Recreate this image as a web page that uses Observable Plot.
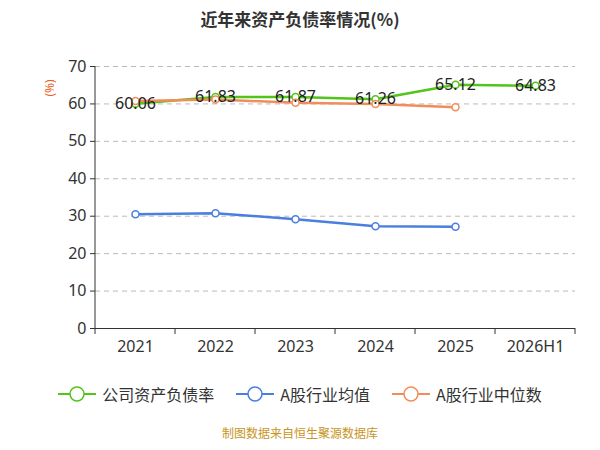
<!DOCTYPE html>
<html><head><meta charset="utf-8">
<script src="https://cdn.jsdelivr.net/npm/d3@7"></script>
<script src="https://cdn.jsdelivr.net/npm/@observablehq/plot@0.6"></script>
<style>
body{margin:0;width:600px;height:450px;background:#fff;font-family:"Noto Sans CJK SC","Noto Sans",sans-serif;}
#title{height:40px;line-height:38px;text-align:center;font-size:17px;font-weight:bold;color:#333;}
#legend{display:flex;justify-content:center;gap:22px;font-size:16px;color:#333;margin-top:22px;}
#legend span{display:flex;align-items:center;gap:6px}
#cap{text-align:center;font-size:12px;color:#c8941e;margin-top:18px}
</style></head><body>
<div id="title">近年来资产负债率情况(%)</div>
<div id="chart"></div>
<div id="legend"></div>
<div id="cap">制图数据来自恒生聚源数据库</div>
<script>
const years=["2021","2022","2023","2024","2025","2026H1"];
const company=[60.06,61.83,61.87,61.26,65.12,64.83];
const aAvg=[30.5,30.8,29.2,27.3,27.2];
const aMed=[60.8,61.2,60.3,60.0,59.1];
const names=["公司资产负债率","A股行业均值","A股行业中位数"];
const colors=["#52c41a","#4a7fe0","#f28c5b"];
const rows=(vals,s)=>vals.map((v,i)=>({x:years[i],y:v,s}));
const all=[...rows(company,names[0]),...rows(aAvg,names[1]),...rows(aMed,names[2])];
const comp=rows(company,names[0]);
const plot=Plot.plot({
  width:600,height:320,marginTop:26,marginBottom:32,marginLeft:95,marginRight:25,
  style:{fontSize:"16px",fontFamily:"Noto Sans, sans-serif",color:"#333"},
  x:{type:"point",domain:years,padding:0.5,label:null,tickSize:0,tickPadding:12},
  y:{domain:[0,70],ticks:d3.range(0,71,10),label:null,tickSize:5},
  color:{domain:names,range:colors},
  marks:[
    Plot.gridY(d3.range(10,71,10),{stroke:"#bbb",strokeDasharray:"5,4",strokeOpacity:1}),
    Plot.ruleY([0],{stroke:"#333"}),
    Plot.axisY({ticks:d3.range(0,71,10),tickSize:5,anchor:"left"}),
    Plot.line(all,{x:"x",y:"y",z:"s",stroke:"s",strokeWidth:2.5}),
    Plot.dot(all,{x:"x",y:"y",stroke:"s",fill:"white",r:3.5,strokeWidth:1.5}),
    Plot.text(comp,{x:"x",y:"y",text:d=>d.y.toFixed(2),fill:"#222",fontSize:16}),
    Plot.text(["(%)"],{frameAnchor:"top-left",dx:-50,dy:30,fill:"#e8601c",fontSize:12,rotate:-90})
  ]
});
document.getElementById("chart").appendChild(plot);
const svg=d3.select(plot);
const ys=plot.scale("y");
const g=svg.append("g");
g.append("line").attr("x1",95).attr("x2",95).attr("y1",ys.apply(70)).attr("y2",ys.apply(0)).attr("stroke","#333");
for(let i=0;i<=years.length;i++){const x=95+i*80;g.append("line").attr("x1",x).attr("x2",x).attr("y1",ys.apply(0)).attr("y2",ys.apply(0)+6).attr("stroke","#333");}
const lg=document.getElementById("legend");
names.forEach((n,i)=>{lg.innerHTML+=`<span><svg width="38" height="16"><line x1="0" x2="38" y1="8" y2="8" stroke="${colors[i]}" stroke-width="2"/><circle cx="19" cy="8" r="7" fill="white" stroke="${colors[i]}" stroke-width="1.5"/></svg>${n}</span>`;});
</script></body></html>
